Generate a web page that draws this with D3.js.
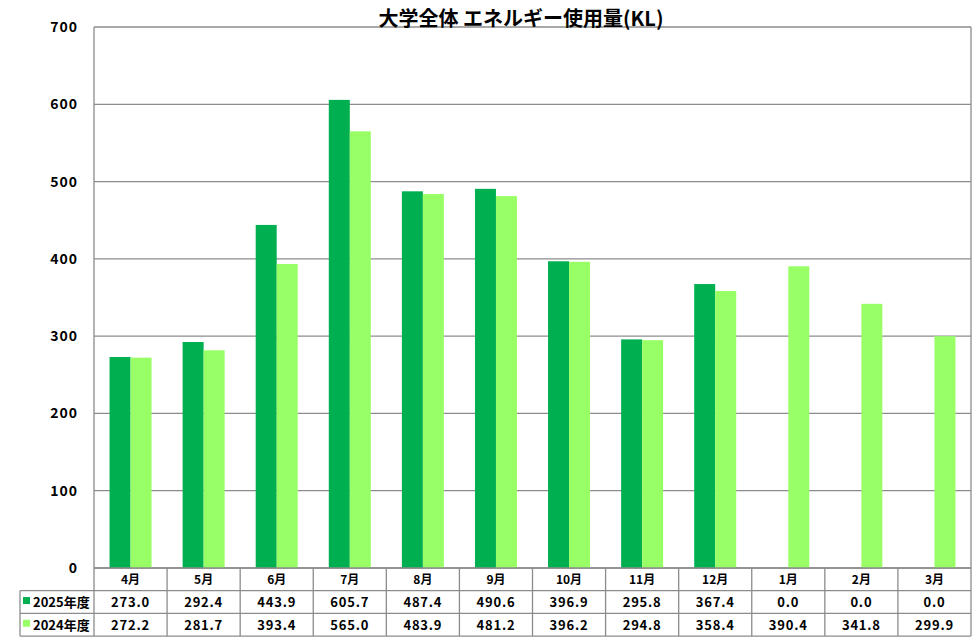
<!DOCTYPE html>
<html>
<head>
<meta charset="utf-8">
<script src="https://cdn.jsdelivr.net/npm/d3@7"></script>
<style>
  body { margin: 0; background: #fff; }
  svg text { font-family: "Noto Sans CJK JP", "Noto Sans", sans-serif; }
</style>
</head>
<body>
<div id="chart"></div>
<script>
const months = ["4月", "5月", "6月", "7月", "8月", "9月", "10月", "11月", "12月", "1月", "2月", "3月"];
const seriesNames = ["2025年度", "2024年度"];
const values2025 = [273.0, 292.4, 443.9, 605.7, 487.4, 490.6, 396.9, 295.8, 367.4, 0.0, 0.0, 0.0];
const values2024 = [272.2, 281.7, 393.4, 565.0, 483.9, 481.2, 396.2, 294.8, 358.4, 390.4, 341.8, 299.9];
const yTicks = [0, 100, 200, 300, 400, 500, 600, 700];
const colors = ["#00b050", "#99ff66"];

const width = 977, height = 638;
const margin = { top: 27, left: 94, right: 6, bottom: 70 };
const rowH = 22.7;

const svg = d3.select("#chart").append("svg")
  .attr("width", width).attr("height", height);

const x0 = d3.scaleBand().domain(months).range([margin.left, width - margin.right]);
const x1 = d3.scaleBand().domain(seriesNames).range([0, x0.bandwidth()]).paddingOuter(0.74);
const y = d3.scaleLinear().domain([0, 700]).range([height - margin.bottom, margin.top]);

// grid
svg.append("g")
  .selectAll("line")
  .data(yTicks)
  .join("line")
  .attr("x1", margin.left).attr("x2", width - margin.right)
  .attr("y1", d => y(d)).attr("y2", d => y(d))
  .attr("stroke", "#8c8c8c").attr("stroke-width", 1.3);

// plot frame (left + right)
svg.append("line")
  .attr("x1", margin.left).attr("x2", margin.left)
  .attr("y1", margin.top).attr("y2", y(0))
  .attr("stroke", "#8c8c8c").attr("stroke-width", 1.3);
svg.append("line")
  .attr("x1", width - margin.right).attr("x2", width - margin.right)
  .attr("y1", margin.top).attr("y2", y(0))
  .attr("stroke", "#8c8c8c").attr("stroke-width", 1.3);

// y axis labels
const yAxis = d3.axisLeft(y).tickValues(yTicks).tickSize(0).tickPadding(16);
const gy = svg.append("g").attr("transform", `translate(${margin.left},0)`).call(yAxis);
gy.select(".domain").remove();
gy.selectAll("text")
  .attr("font-size", 14).attr("font-weight", "bold").attr("fill", "#000")
  .attr("letter-spacing", 1)
  .style("font-family", "'Noto Sans CJK JP', sans-serif");

// bars
const table = months.map((m, i) => ({ month: m, vals: [values2025[i], values2024[i]] }));
svg.append("g")
  .selectAll("g")
  .data(table)
  .join("g")
  .attr("transform", d => `translate(${x0(d.month)},0)`)
  .selectAll("rect")
  .data(d => d.vals.map((v, k) => ({ key: seriesNames[k], v, k })))
  .join("rect")
  .attr("x", d => x1(d.key))
  .attr("width", x1.bandwidth())
  .attr("y", d => y(d.v))
  .attr("height", d => y(0) - y(d.v))
  .attr("fill", d => colors[d.k]);

// title
svg.append("text")
  .attr("x", 521).attr("y", 26)
  .attr("text-anchor", "middle")
  .attr("font-size", 20).attr("font-weight", "bold")
  .text("大学全体 エネルギー使用量(KL)");

// data table
const tTop = y(0);
const tLeft = 20;
const tRight = width - margin.right;
const tg = svg.append("g").attr("stroke", "#8c8c8c").attr("stroke-width", 1.3);
tg.append("line").attr("x1", margin.left).attr("x2", tRight).attr("y1", tTop).attr("y2", tTop);
[1, 2, 3].forEach(r => {
  tg.append("line").attr("x1", tLeft).attr("x2", tRight)
    .attr("y1", tTop + r * rowH).attr("y2", tTop + r * rowH);
});
tg.append("line").attr("x1", tLeft).attr("x2", tLeft).attr("y1", tTop + rowH).attr("y2", tTop + 3 * rowH);
months.forEach(m => {
  tg.append("line").attr("x1", x0(m)).attr("x2", x0(m)).attr("y1", tTop).attr("y2", tTop + 3 * rowH);
});
tg.append("line").attr("x1", tRight).attr("x2", tRight).attr("y1", tTop).attr("y2", tTop + 3 * rowH);

const txt = svg.append("g")
  .attr("font-size", 13).attr("font-weight", "bold").attr("text-anchor", "middle").attr("fill", "#000");
txt.selectAll(".hdr").data(months).join("text")
  .attr("class", "hdr")
  .attr("x", d => x0(d) + x0.bandwidth() / 2)
  .attr("y", tTop + rowH / 2 + 5)
  .attr("font-size", 12)
  .text(d => d);
[values2025, values2024].forEach((vals, k) => {
  txt.selectAll(".r" + k).data(vals).join("text")
    .attr("class", "r" + k)
    .attr("x", (d, i) => x0(months[i]) + x0.bandwidth() / 2)
    .attr("y", tTop + (k + 1) * rowH + rowH / 2 + 5)
    .attr("letter-spacing", 0.8)
    .text(d => d.toFixed(1));
  svg.append("rect")
    .attr("x", 23).attr("y", tTop + (k + 1) * rowH + rowH / 2 - 5)
    .attr("width", 7).attr("height", 7)
    .attr("fill", colors[k]);
  svg.append("text")
    .attr("x", 33).attr("y", tTop + (k + 1) * rowH + rowH / 2 + 5)
    .attr("font-size", 13).attr("font-weight", "bold")
    .text(seriesNames[k]);
});
</script>
</body>
</html>
